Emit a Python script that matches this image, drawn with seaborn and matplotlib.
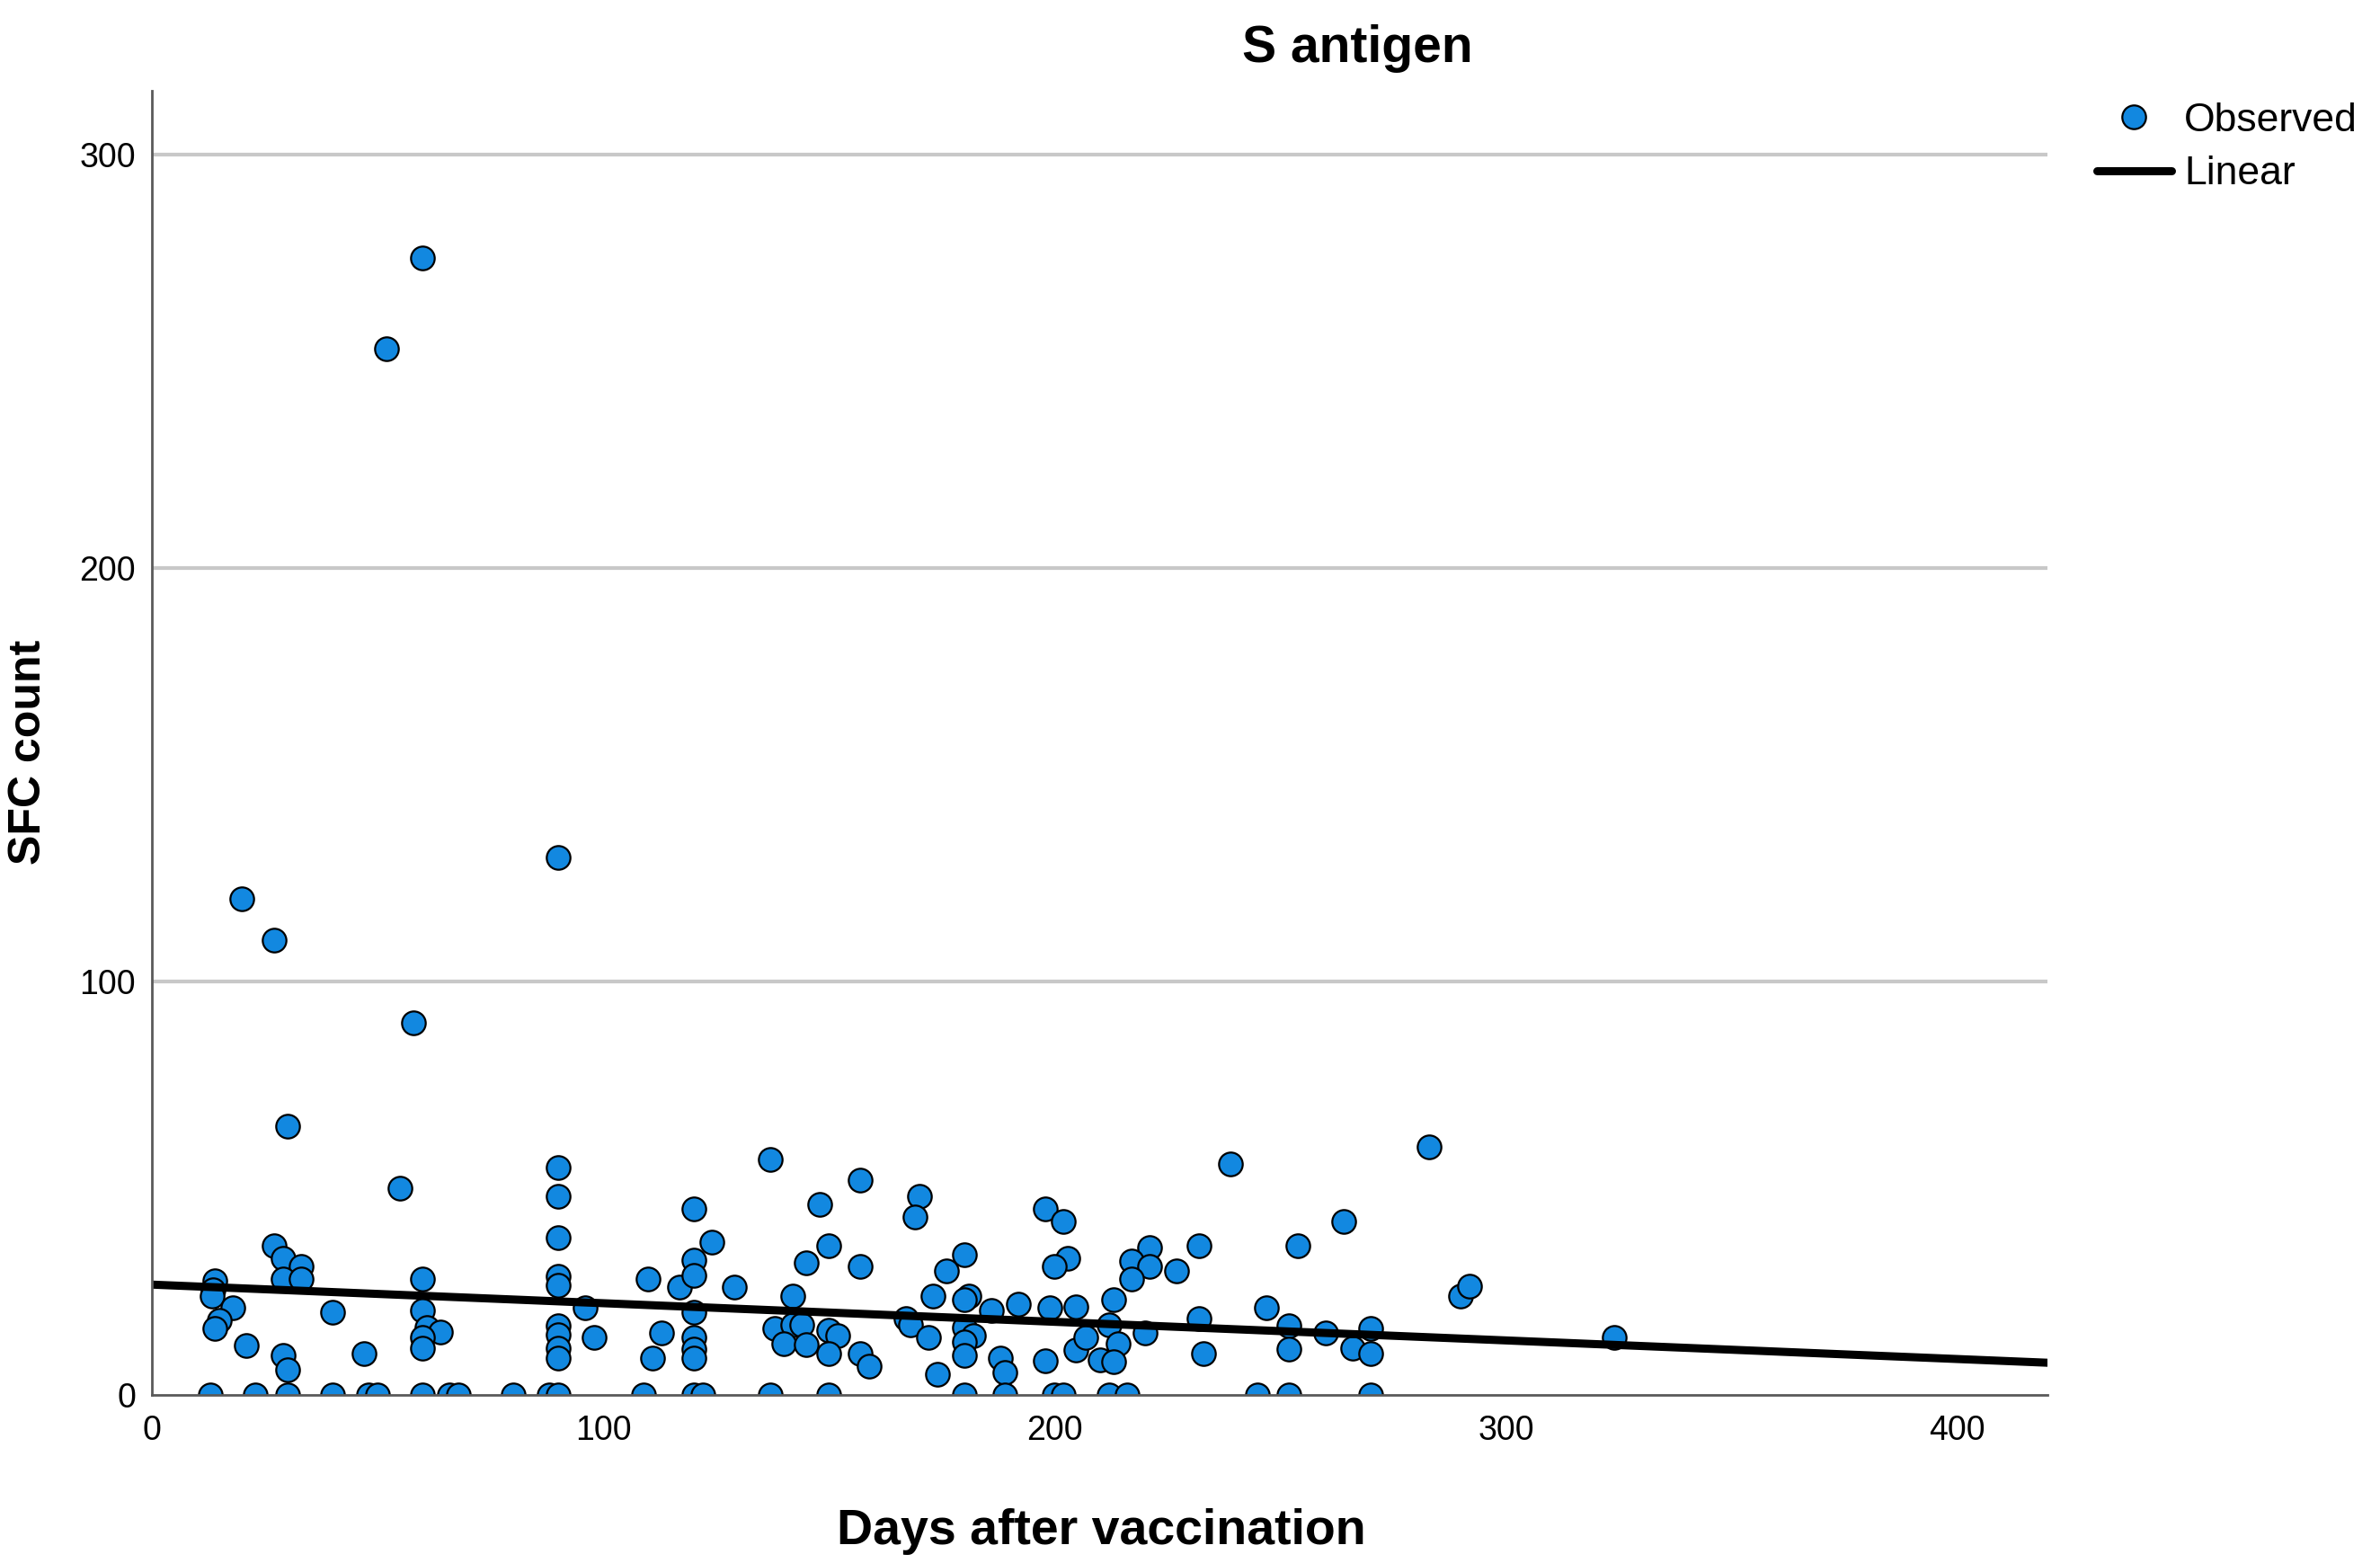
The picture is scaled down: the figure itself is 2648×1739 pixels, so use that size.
import numpy as np
import pandas as pd
import matplotlib
matplotlib.use("Agg")
import matplotlib.pyplot as plt
from matplotlib.lines import Line2D
import seaborn as sns

# ---- data ----
days = [
    52, 60, 90, 20, 27, 58,
    30, 55, 90, 90, 90, 90, 90, 60, 27, 29, 33, 29, 33, 14, 13.6, 13.3, 18, 15, 14, 40,
    21, 29, 30, 47, 60, 61, 64, 60, 60, 96, 98, 90, 90, 90, 90,
    13, 23, 30, 40, 48, 50, 60, 66, 68, 80, 88, 90,
    120, 110, 117, 120, 120, 124, 129, 120, 120, 120, 120, 113, 111, 137, 148, 157, 170,
    169, 198, 202, 150, 145, 157, 180, 176, 173, 181, 180, 203, 200, 142, 138, 142, 144,
    140, 145, 150, 152, 150, 157, 159, 167, 168, 172, 174, 180, 182, 180, 180, 186, 192,
    199, 204.8, 188, 189, 198, 204.8,
    109, 120, 122, 137, 150, 180, 189, 200, 202,
    239, 283, 264, 254, 232, 221, 217, 221, 227, 217, 213, 247, 290, 292, 232, 212, 220,
    207, 214, 210, 213, 233, 252, 252, 260, 270, 266, 270,
    212, 216, 245, 252, 270,
    324,
]
sfc = [
    253, 275, 130, 120, 110, 90,
    65, 50, 55, 48, 38, 28.7, 26.5, 28, 36, 33, 31, 28, 28, 27.6, 25.4, 24, 21, 18, 16, 20,
    12, 9.5, 6, 10, 20.4, 16.4, 15.3, 14, 11.3, 21, 14, 16.7, 14.6, 11.3, 9,
    0, 0, 0, 0, 0, 0, 0, 0, 0, 0, 0, 0,
    45, 28, 26, 32.7, 29, 37, 26, 20, 14, 11, 9, 15, 9, 57, 46, 52, 48,
    43, 45, 42, 36, 32, 31, 34, 30, 24, 24, 23, 33, 31, 24, 16, 17, 17,
    12.4, 12.2, 15.7, 14.3, 10, 10, 7, 18.6, 17, 14, 5, 16.4, 14.3, 12.8, 9.5, 20.4, 22,
    21, 21.3, 9, 5.4, 8.3, 10.9,
    0, 0, 0, 0, 0, 0, 0, 0, 0,
    56, 60, 42, 36, 36, 35.6, 32.5, 31, 30, 28, 23, 21, 24, 26.4, 18.6, 17, 15,
    14, 12.4, 8.4, 8, 10, 16.7, 11, 15, 16, 11.3, 10,
    0, 0, 0, 0, 0,
    14,
]
# fitted linear trend as drawn in the reference (end points)
fit_days = [0, 420]
fit_sfc = [26.7, 7.8]

x_ticks = [0, 100, 200, 300, 400]
y_ticks = [0, 100, 200, 300]
title = "S antigen"
x_label = "Days after vaccination"
y_label = "SFC count"
legend_labels = ["Observed", "Linear"]

df = pd.DataFrame({"days": days, "sfc": sfc})
fit_df = pd.DataFrame({"days": fit_days, "sfc": fit_sfc})

# ---- style ----
sns.set_theme(style="white")
plt.rcParams["font.family"] = ["Liberation Sans", "DejaVu Sans"]
plt.rcParams["text.color"] = "black"
plt.rcParams["axes.labelcolor"] = "black"

POINT_COLOR = "#1288e0"

fig = plt.figure(figsize=(26.48, 17.39), dpi=100)
ax = fig.add_axes([0.0638, 0.1075, 0.7965, 0.8344])

# grid lines
for yv in y_ticks[1:]:
    ax.axhline(yv, color="#c8c8c8", lw=3, zorder=0)

sns.scatterplot(data=df, x="days", y="sfc", ax=ax, s=360, color=POINT_COLOR,
                edgecolor="black", linewidth=1.6, zorder=3, legend=False)
sns.lineplot(data=fit_df, x="days", y="sfc", ax=ax, color="black", lw=6.5,
             zorder=4, legend=False)

ax.set_xlim(0, 420)
ax.set_ylim(0, 315.5)
ax.set_xticks(x_ticks)
ax.set_yticks(y_ticks)
ax.tick_params(axis="both", length=0, labelsize=27, colors="black")
ax.tick_params(axis="x", pad=16)
ax.tick_params(axis="y", pad=13)

for side in ["top", "right"]:
    ax.spines[side].set_visible(False)
for side in ["left", "bottom"]:
    ax.spines[side].set_color("#5a5a5a")
    ax.spines[side].set_linewidth(2)
    ax.spines[side].set_zorder(5)

ax.set_title(title, fontsize=41, fontweight="bold", x=0.636, y=1.0324, va="center",
             pad=0, color="black")
ax.set_xlabel(x_label, fontsize=40, fontweight="bold")
ax.xaxis.set_label_coords(0.5007, -0.1048)
ax.xaxis.label.set_va("center")
ax.set_ylabel(y_label, fontsize=36, fontweight="bold")
ax.yaxis.set_label_coords(-0.0647, 0.4928)
ax.yaxis.label.set_va("center")

handles = [
    Line2D([], [], marker="o", linestyle="none", markersize=19,
           markerfacecolor=POINT_COLOR, markeredgecolor="black", markeredgewidth=1.6),
    Line2D([], [], color="black", lw=6.5),
]
ax.legend(handles, legend_labels, loc="upper left",
          bbox_to_anchor=(2333 / 2648, 1 - 114 / 1739), bbox_transform=fig.transFigure,
          frameon=False, fontsize=32, handlelength=1.86, handletextpad=0.32,
          labelspacing=0.41, borderpad=0, borderaxespad=0)

fig.savefig("out.png", dpi=100, facecolor="white")
